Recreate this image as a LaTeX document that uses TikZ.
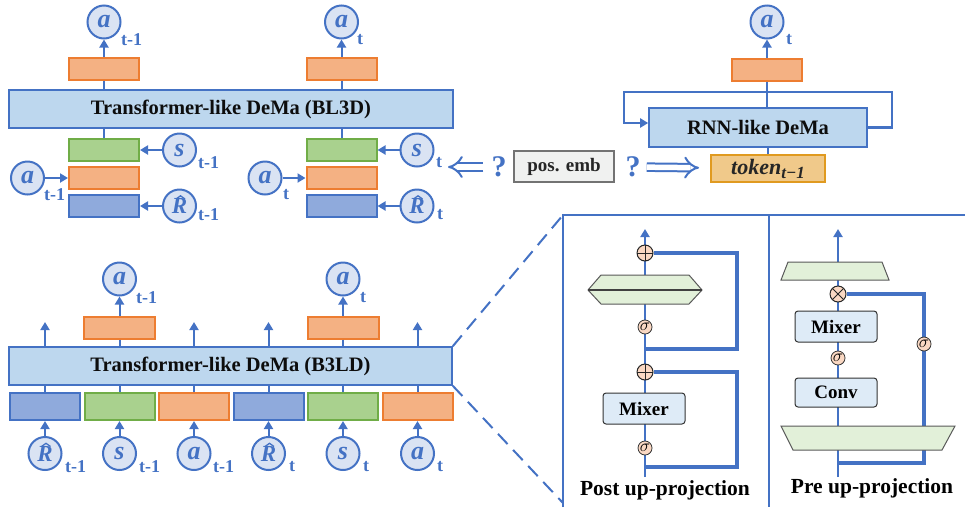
\documentclass[tikz,border=0pt]{standalone}
\usepackage{fontspec}
\setmainfont{Liberation Serif}
\usetikzlibrary{positioning,arrows.meta}

\definecolor{dblue}{HTML}{4472C4}
\definecolor{cfill}{HTML}{DAE3F3}
\definecolor{ofill}{HTML}{F4B183}
\definecolor{oline}{HTML}{ED7D31}
\definecolor{gfill}{HTML}{A9D18E}
\definecolor{gline}{HTML}{70AD47}
\definecolor{rfill}{HTML}{8FAADC}
\definecolor{bfill}{HTML}{BDD7EE}
\definecolor{tkfill}{HTML}{F0C98A}
\definecolor{tkline}{HTML}{E09A20}
\definecolor{pefill}{HTML}{F0F1F0}
\definecolor{lgreen}{HTML}{E2F0D9}
\definecolor{mixfill}{HTML}{DEEBF7}
\definecolor{sigfill}{HTML}{FAD8C3}

\begin{document}
\begin{tikzpicture}[x=1pt,y=-1pt,
        conn/.style={draw=dblue, line width=2pt},
        arr/.style={conn, -{Triangle[length=8pt,width=9pt]}},
        res/.style={draw=dblue, line width=3.5pt},
        frame/.style={draw=dblue, line width=1.8pt},
        obox/.style={rectangle, draw=oline, fill=ofill, line width=2pt, minimum width=70pt, minimum height=22pt, inner sep=0pt},
        gbox/.style={obox, draw=gline, fill=gfill},
        rbox/.style={obox, draw=dblue, fill=rfill},
        dema/.style={rectangle, draw=dblue, fill=bfill, line width=1.6pt, inner sep=0pt, text=black!95, font=\fontsize{20.5}{24}\selectfont\bfseries},
        tok/.style={circle, draw=dblue, fill=cfill, line width=2pt, minimum size=33pt, inner sep=0pt, text=dblue, font=\fontsize{26}{26}\selectfont\bfseries\itshape},
        rtok/.style={tok, font=\fontsize{23}{23}\selectfont\bfseries\itshape,
            path picture={\draw[dblue, line width=1.3pt, line join=miter] ([xshift=-3.5pt,yshift=7pt]path picture bounding box.center) -- ++(4.5pt,3.2pt) -- ++(4.5pt,-3.2pt);}},
        sub/.style={anchor=west, inner sep=0pt, text=dblue, font=\fontsize{18}{18}\selectfont\bfseries},
        qm/.style={inner sep=0pt, text=dblue, font=\fontsize{30}{30}\selectfont\bfseries},
        hollow/.style={draw=dblue, line width=2pt, double=white, double distance=5.5pt, -{Implies[scale=2]}},
        blk/.style={rectangle, rounded corners=3pt, draw=black!80, fill=mixfill, line width=1pt, minimum width=82pt, inner sep=0pt, font=\fontsize{19}{19}\selectfont\bfseries},
        sig/.style={circle, draw=black!80, fill=sigfill, line width=0.8pt, minimum size=14pt, inner sep=0pt, font=\fontsize{17}{17}\selectfont},
        opnode/.style={circle, draw=black!85, fill=sigfill, line width=1pt, minimum size=16pt, inner sep=0pt},
        plus/.style={opnode, path picture={\draw[black!85, line width=1pt] (path picture bounding box.north) -- (path picture bounding box.south) (path picture bounding box.west) -- (path picture bounding box.east);}},
        times/.style={opnode, path picture={\draw[black!85, line width=1pt] (path picture bounding box.north west) -- (path picture bounding box.south east) (path picture bounding box.north east) -- (path picture bounding box.south west);}},
        trap/.style={fill=lgreen, draw=black!65, line width=1pt},
        title/.style={inner sep=0pt, font=\fontsize{21.5}{24}\selectfont\bfseries},
    ]
    \useasboundingbox (0,0) rectangle (965,507);

    % Transformer-like DeMa (BL3D)
    \node[dema, minimum width=444pt, minimum height=38pt] (bl3d) at (231,109) {Transformer-like DeMa (BL3D)};
    \node[obox] (outA) at (104,68.5) {};
    \node[obox] (outB) at (341.5,68.5) {};
    \node[tok] (aoutA) at (104,22) {a};
    \node[tok] (aoutB) at (341.5,22) {a};
    \node[sub] (laoutA) at (121,40) {t-1};
    \node[sub] (laoutB) at (357,40) {t};
    \draw[arr] (outA) -- (aoutA);
    \draw[arr] (outB) -- (aoutB);
    \draw[conn] (outA) -- (outA |- bl3d.north);
    \draw[conn] (outB) -- (outB |- bl3d.north);

    \node[gbox] (gA) at (104,150) {};
    \node[obox] (oA) [below=4pt of gA] {};
    \node[rbox] (rA) [below=4pt of oA] {};
    \node[gbox] (gB) at (341.5,150) {};
    \node[obox] (oB) [below=4pt of gB] {};
    \node[rbox] (rB) [below=4pt of oB] {};
    \draw[conn] (gA) -- (gA |- bl3d.south);
    \draw[conn] (gB) -- (gB |- bl3d.south);

    \node[tok] (sA) [right=22pt of gA] {s};
    \node[tok] (aA) [left=23pt of oA] {a};
    \node[rtok] (RA) [right=22pt of rA] {\raisebox{-3pt}{R}};
    \node[tok] (sB) [right=22pt of gB] {s};
    \node[tok] (aB) [left=23pt of oB] {a};
    \node[rtok] (RB) [right=22pt of rB] {\raisebox{-3pt}{R}};
    \draw[arr] (sA) -- (gA);
    \draw[arr] (aA) -- (oA);
    \draw[arr] (RA) -- (rA);
    \draw[arr] (sB) -- (gB);
    \draw[arr] (aB) -- (oB);
    \draw[arr] (RB) -- (rB);
    \node[sub] (lsA) at (198,163) {t-1};
    \node[sub] (laA) at (44,195) {t-1};
    \node[sub] (lRA) at (198,215) {t-1};
    \node[sub] (lsB) at (436,163) {t};
    \node[sub] (laB) at (283,195) {t};
    \node[sub] (lRB) at (437,215) {t};

    % RNN-like DeMa
    \node[dema, minimum width=218pt, minimum height=39pt] (rnn) at (758,127.5) {RNN-like DeMa};
    \node[obox] (outC) at (767,69.5) {};
    \node[tok] (aoutC) at (767,22) {a};
    \node[sub] (laoutC) at (786,40) {t};
    \draw[arr] (outC) -- (aoutC);
    \draw[conn] (outC) -- (outC |- rnn.north);
    \draw[arr, line width=2.5pt] (rnn.east) -- (892,127.5) -- (892,92) -- (624,92) -- (624,123) -- (rnn.west |- 0,123);
    \node[rectangle, draw=tkline, fill=tkfill, line width=2pt, minimum width=114pt, minimum height=27pt, inner sep=0pt, text=black!85] (tokn) at (768,168.5)
        {\fontsize{22}{22}\selectfont\bfseries\itshape token\raisebox{-0.4ex}{\fontsize{17}{17}\selectfont t−1}};
    \draw[conn] (tokn) -- (tokn |- rnn.south);

    \node[rectangle, draw=black!55, fill=pefill, line width=2pt, minimum width=100pt, minimum height=31pt, inner sep=0pt, text=black!85, font=\fontsize{19}{19}\selectfont\bfseries] (pe) at (564,166.5) {pos. emb};
    \node[qm] (qL) at (499,167) {?};
    \node[qm] (qR) at (633,167) {?};
    \coordinate (peL) at (448,167);
    \draw[hollow, shorten <=8pt] (qL) -- (peL);
    \draw[hollow, shorten <=6pt, shorten >=11pt] (qR) -- (tokn);

    % Transformer-like DeMa (B3LD)
    \node[dema, minimum width=443pt, minimum height=38pt] (b3ld) at (230.5,366) {Transformer-like DeMa (B3LD)};
    \node[rbox, minimum height=27pt] (e1) at (45,406.5) {};
    \node[gbox, minimum height=27pt] (e2) [right=2.5pt of e1] {};
    \node[obox, minimum height=27pt] (e3) [right=2.5pt of e2] {};
    \node[rbox, minimum height=27pt] (e4) [right=2.5pt of e3] {};
    \node[gbox, minimum height=27pt] (e5) [right=2.5pt of e4] {};
    \node[obox, minimum height=27pt] (e6) [right=2.5pt of e5] {};
    \node[rtok] (c1) [below=15pt of e1] {\raisebox{-3pt}{R}};
    \node[tok] (c2) [below=15pt of e2] {s};
    \node[tok] (c3) [below=15pt of e3] {a};
    \node[rtok] (c4) [below=15pt of e4] {\raisebox{-3pt}{R}};
    \node[tok] (c5) [below=15pt of e5] {s};
    \node[tok] (c6) [below=15pt of e6] {a};
    \foreach \i in {1,...,6} {
        \draw[arr] (c\i) -- (e\i);
        \draw[conn] (e\i) -- (e\i |- b3ld.south);
    }
    \node[sub] (lc1) at (65,467) {t-1};
    \node[sub] (lc2) at (139,467) {t-1};
    \node[sub] (lc3) at (213,467) {t-1};
    \node[sub] (lc4) at (289,467) {t};
    \node[sub] (lc5) at (363,467) {t};
    \node[sub] (lc6) at (437,467) {t};
    \foreach \i in {1,3,4,6} {
        \coordinate (u\i) at (e\i |- 0,322);
        \draw[arr] (e\i |- b3ld.north) -- (u\i);
    }
    \node[obox, minimum width=71pt] (outD) at (e2 |- 0,327.5) {};
    \node[obox, minimum width=71pt] (outE) at (e5 |- 0,327.5) {};
    \node[tok] (aoutD) at (e2 |- 0,279) {a};
    \node[tok] (aoutE) at (e5 |- 0,279) {a};
    \node[sub] (laoutD) at (136,298) {t-1};
    \node[sub] (laoutE) at (360,298) {t};
    \draw[arr] (outD) -- (aoutD);
    \draw[arr] (outE) -- (aoutE);
    \draw[conn] (outD) -- (outD |- b3ld.north);
    \draw[conn] (outE) -- (outE |- b3ld.north);

    % zoom-in panels
    \coordinate (zt) at (563,215);
    \coordinate (zb) at (563,503);
    \draw[conn, dash pattern=on 14pt off 8pt] (b3ld.north east) -- (zt);
    \draw[conn, dash pattern=on 14pt off 8pt] (b3ld.south east) -- (zb);
    \draw[frame] (563,507) -- (zt) -- (965,215);
    \draw[frame] (769,215) -- (769,507);

    % post up-projection
    \coordinate (inL) at (645,477);
    \coordinate (topL) at (645,229);
    \draw[arr, line width=2.5pt] (inL) -- (topL);
    \node[plus] (p1) at (645,253) {};
    \node[plus] (p2) at (645,372) {};
    \coordinate (r1) at (645,349);
    \coordinate (r2) at (645,467);
    \draw[res] (r1) -- (737,349) |- (p1);
    \draw[res] (r2) -- (737,467) |- (p2);
    \filldraw[trap] (588,290) -- (601,275) -- (689,275) -- (702,290) -- (689,304) -- (601,304) -- cycle;
    \draw[black!75, line width=1.2pt] (588,290) -- (702,290);
    \node[sig] (s1) at (645,327) {$\sigma$};
    \node[blk, minimum height=31pt] (mixL) at (644,408.5) {Mixer};
    \node[sig] (s2) at (645,448) {$\sigma$};
    \node[title] (tL) at (665,490) {Post up-projection};

    % pre up-projection
    \coordinate (inR) at (838,477);
    \coordinate (topR) at (838,229);
    \draw[arr, line width=2.5pt] (inR) -- (topR);
    \node[times] (x1) at (838,294) {};
    \draw[res] (x1) -- (924,294) -- (924,426);
    \coordinate (r3) at (838,463);
    \draw[res] (r3) -- (924,463) -- (924,450);
    \filldraw[trap] (781,280) -- (788,262) -- (882,262) -- (889,280) -- cycle;
    \filldraw[trap] (781,426) -- (955,426) -- (942,450) -- (793,450) -- cycle;
    \node[blk, minimum height=31pt] (mixR) at (836,326.5) {Mixer};
    \node[sig] (s3) at (838,358) {$\sigma$};
    \node[blk, minimum height=29pt] (conv) at (836,392.5) {Conv};
    \node[sig] (s4) at (924,344) {$\sigma$};
    \node[title] (tR) at (872,488) {Pre up-projection};
\end{tikzpicture}
\end{document}
